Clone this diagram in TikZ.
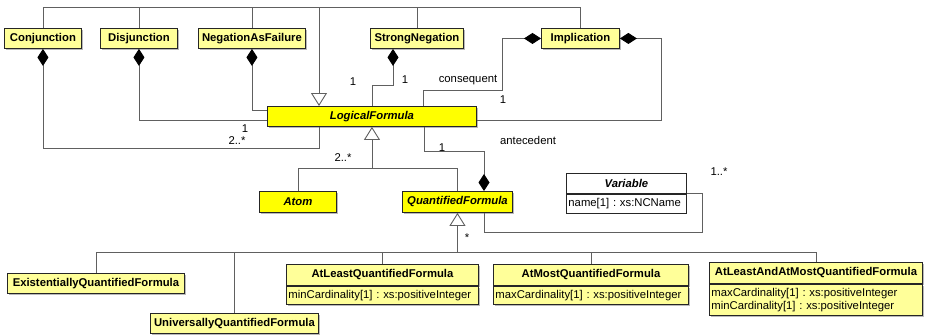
\documentclass[tikz,border=0pt]{standalone}
\usepackage{fontspec}
\setmainfont{Liberation Sans}
\usetikzlibrary{arrows.meta,shadows}
\definecolor{paleyellow}{HTML}{FFFF99}
\definecolor{brightyellow}{HTML}{FFFF00}
\definecolor{linegray}{HTML}{606060}
\frenchspacing

\begin{document}
\begin{tikzpicture}[x=1pt,y=-1pt,
    font=\fontsize{11.3}{13}\selectfont,
    cls/.style={draw=black!85,line width=0.9pt,fill=paleyellow,inner sep=0pt,anchor=north west,
      minimum height=20pt,font=\fontsize{11.3}{13}\selectfont\bfseries},
    box/.style={cls,drop shadow={shadow xshift=1.5pt,shadow yshift=-1.5pt,fill=black!45,opacity=0.6}},
    abox/.style={box,fill=brightyellow,font=\fontsize{11.3}{13}\selectfont\bfseries\itshape},
    attr/.style={box,anchor=north,font=\fontsize{11.3}{13}\selectfont,align=left,inner xsep=2pt},
    line/.style={draw=linegray,line width=0.9pt},
    comp/.style={line,{Diamond[length=17pt,width=11pt,color=black]}-},
    gen/.style={line,-{Triangle[open,length=13pt,width=16pt,fill=white]}},
    mult/.style={inner sep=0pt,font=\fontsize{11.3}{13}\selectfont}]
  \useasboundingbox (0,0) rectangle (925,335);
  \node[box,minimum width=77pt] (conj) at (4,28) {Conjunction};
  \node[box,minimum width=77pt] (disj) at (100,28) {Disjunction};
  \node[box,minimum width=107pt] (naf) at (198,28) {NegationAsFailure};
  \node[box,minimum width=93pt] (sneg) at (370,28) {StrongNegation};
  \node[box,minimum width=78pt] (impl) at (541,28) {Implication};
  \node[abox,minimum width=209pt] (lf) at (267,106) {LogicalFormula};
  \node[abox,minimum width=77pt,minimum height=21pt] (atom) at (259,191) {Atom};
  \node[abox,minimum width=110pt,minimum height=21pt] (qf) at (402,191) {QuantifiedFormula};
  \node[cls,fill=white,minimum width=120pt,font=\fontsize{11.3}{13}\selectfont\bfseries\itshape] (var) at (566,173) {Variable};
  \node[cls,fill=white,anchor=north,font=\fontsize{11.3}{13}\selectfont,align=left,inner xsep=2pt,
    text width=116pt,minimum height=19pt] (vara) at (var.south) {name[1] : xs:NCName};
  \node[box,minimum width=177pt] (exq) at (7,273) {ExistentiallyQuantifiedFormula};
  \node[box,minimum width=168pt] (unq) at (150,313) {UniversallyQuantifiedFormula};
  \node[box,minimum width=192pt,minimum height=21pt] (alq) at (286,264) {AtLeastQuantifiedFormula};
  \node[attr,text width=188pt,minimum height=18pt] (alqa) at (alq.south) {minCardinality[1] : xs:positiveInteger};
  \node[box,minimum width=195pt,minimum height=21pt] (amq) at (493,264) {AtMostQuantifiedFormula};
  \node[attr,text width=191pt,minimum height=18pt] (amqa) at (amq.south) {maxCardinality[1] : xs:positiveInteger};
  \node[box,minimum width=213pt,minimum height=21pt] (alamq) at (709,262) {AtLeastAndAtMostQuantifiedFormula};
  \node[attr,text width=209pt,minimum height=31pt] (alamqa) at (alamq.south) {maxCardinality[1] : xs:positiveInteger\\minCardinality[1] : xs:positiveInteger};

  \coordinate (bus1) at (0,7);
  \coordinate (bus2) at (0,168);
  \coordinate (bus3) at (0,252);
  \coordinate (lfgen) at ([xshift=52pt]lf.north west);

  \foreach \n in {conj,disj,naf,sneg,impl}
    \draw[line] (\n.north) -- (\n.north |- bus1);
  \draw[line] (conj.north |- bus1) -- (impl.north |- bus1);
  \draw[gen] (lfgen |- bus1) -- (lfgen);

  \draw[comp] (conj.south) |- ([xshift=52pt,yshift=-22pt]lf.south west) -- ([xshift=52pt]lf.south west);
  \draw[comp] (disj.south) |- ([yshift=-4pt]lf.west);
  \draw[comp] (naf.south) |- ([yshift=6pt]lf.west);
  \draw[comp] ([xshift=23pt]sneg.south west) -- ++(0,37) -| (lf.north);
  \draw[comp] (impl.west) -- ++(-39,0) -- ++(0,52) -| ([xshift=156pt]lf.north west);
  \draw[comp] (impl.east) -- ++(42,0) |- ([yshift=-4pt]lf.east);

  \draw[line] (atom.north) |- (qf.north |- bus2) -- (qf.north);
  \draw[gen] (lf.south |- bus2) -- (lf.south);
  \draw[comp] ([xshift=82pt]qf.north west) -- ++(0,-40) -| ([xshift=157pt]lf.south west);
  \draw[line] (var.south east) -- ++(16,0) -- ++(0,39) -| ([xshift=82pt]qf.south west);

  \draw[gen] (qf.south |- bus3) -- (qf.south);
  \foreach \n in {exq,unq,alq,amq,alamq}
    \draw[line] (\n.north) -- (\n.north |- bus3);
  \draw[line] (exq.north |- bus3) -- (alamq.north |- bus3);

  \node[mult] (m1) at (245,129) {1};
  \node[mult] (m2) at (237,141) {2..*};
  \node[mult] (m3) at (353,82) {1};
  \node[mult] (m4) at (405,80) {1};
  \node[mult] (cons) at (468,80) {consequent};
  \node[mult] (m5) at (503,100) {1};
  \node[mult] (ante) at (528,140) {antecedent};
  \node[mult] (m6) at (442,148) {1};
  \node[mult] (m7) at (343,158) {2..*};
  \node[mult] (m8) at (467,238) {*};
  \node[mult] (m9) at (719,172) {1..*};
\end{tikzpicture}
\end{document}
